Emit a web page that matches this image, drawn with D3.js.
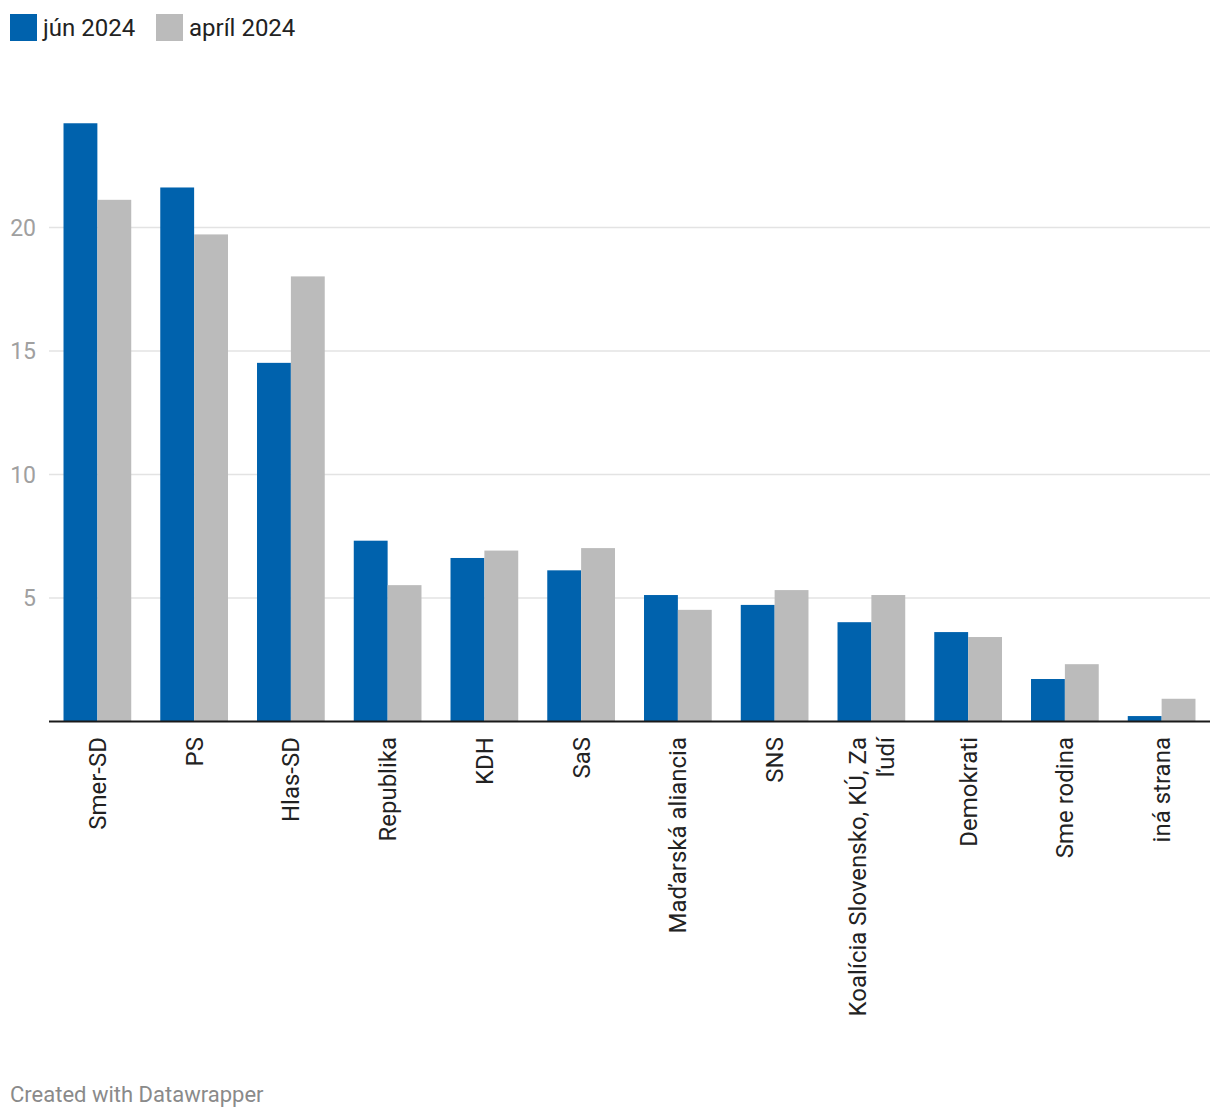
<!DOCTYPE html>
<html>
<head>
<meta charset="utf-8">
<script src="https://cdn.jsdelivr.net/npm/d3@7"></script>
<style>
  html, body { margin: 0; padding: 0; background: #fff; }
  svg { display: block; font-family: Roboto, "Noto Sans", sans-serif; }
</style>
</head>
<body>
<svg id="chart" width="1220" height="1120"></svg>
<script>
const categories = ["Smer-SD", "PS", "Hlas-SD", "Republika", "KDH", "SaS", "Maďarská aliancia", "SNS", "Koalícia Slovensko, KÚ, Za ľudí", "Demokrati", "Sme rodina", "iná strana"];
const categoryLines = [["Smer-SD"], ["PS"], ["Hlas-SD"], ["Republika"], ["KDH"], ["SaS"], ["Maďarská aliancia"], ["SNS"], ["Koalícia Slovensko, KÚ, Za", "ľudí"], ["Demokrati"], ["Sme rodina"], ["iná strana"]];
const seriesNames = ["jún 2024", "apríl 2024"];
const jun2024 = [24.2, 21.6, 14.5, 7.3, 6.6, 6.1, 5.1, 4.7, 4.0, 3.6, 1.7, 0.2];
const april2024 = [21.1, 19.7, 18.0, 5.5, 6.9, 7.0, 4.5, 5.3, 5.1, 3.4, 2.3, 0.9];
const yTicks = [5, 10, 15, 20];
const colors = ["#0062ad", "#bbbbbb"];

const svg = d3.select("#chart");
const left = 49, right = 1210, baseY = 721, topY = 227;

const x0 = d3.scaleBand().domain(categories).range([left, right]).paddingInner(0.3).paddingOuter(0.15);
const x1 = d3.scaleBand().domain(seriesNames).range([0, x0.bandwidth()]).padding(0);
const y = d3.scaleLinear().domain([0, 20]).range([baseY, topY]);

// gridlines + y labels
const yAxis = d3.axisLeft(y).tickValues(yTicks).tickSize(-(right - left)).tickFormat(d3.format("d"));
const gy = svg.append("g").attr("transform", `translate(${left},0)`).call(yAxis);
gy.select(".domain").remove();
gy.selectAll(".tick line").attr("stroke", "#e3e3e3").attr("stroke-width", 1.5);
gy.selectAll(".tick text").attr("x", -13).attr("fill", "#a0a0a0").attr("font-size", 23).attr("font-family", "Roboto").attr("dy", "0.35em");

// bars
const data = categories.map((c, i) => ({ cat: c, vals: [jun2024[i], april2024[i]] }));
const groups = svg.append("g").selectAll("g").data(data).join("g")
  .attr("transform", d => `translate(${x0(d.cat)},0)`);
groups.selectAll("rect").data(d => d.vals.map((v, j) => ({ key: seriesNames[j], v, j })))
  .join("rect")
  .attr("x", d => x1(d.key))
  .attr("width", x1.bandwidth())
  .attr("y", d => y(d.v))
  .attr("height", d => y(0) - y(d.v))
  .attr("fill", d => colors[d.j]);

// baseline
svg.append("line").attr("x1", left).attr("x2", right).attr("y1", baseY + 0.5).attr("y2", baseY + 0.5)
  .attr("stroke", "#1a1a1a").attr("stroke-width", 2);

// x labels (rotated)
const lineH = 28;
categories.forEach((c, i) => {
  const cx = x0(c) + x0.bandwidth() / 2;
  const lines = categoryLines[i];
  const n = lines.length;
  const t = svg.append("text")
    .attr("transform", `translate(${cx},737) rotate(-90)`)
    .attr("text-anchor", "end")
    .attr("font-size", 24)
    .attr("fill", "#222");
  lines.forEach((ln, k) => {
    t.append("tspan").attr("x", 0).attr("y", (k - (n - 1) / 2) * lineH).attr("dy", "0.35em").text(ln);
  });
});

// legend
const leg = svg.append("g");
let lx = 10;
const legendX = [10, 156];
seriesNames.forEach((s, i) => {
  leg.append("rect").attr("x", legendX[i]).attr("y", 14).attr("width", 27).attr("height", 27).attr("fill", colors[i]);
  leg.append("text").attr("x", legendX[i] + 33).attr("y", 27.5).attr("dy", "0.35em")
    .attr("font-size", 24).attr("fill", "#222").text(s);
});

// footer
svg.append("text").attr("x", 10).attr("y", 1102).attr("font-size", 22).attr("fill", "#8a8a8a")
  .text("Created with Datawrapper");
</script>
</body>
</html>
